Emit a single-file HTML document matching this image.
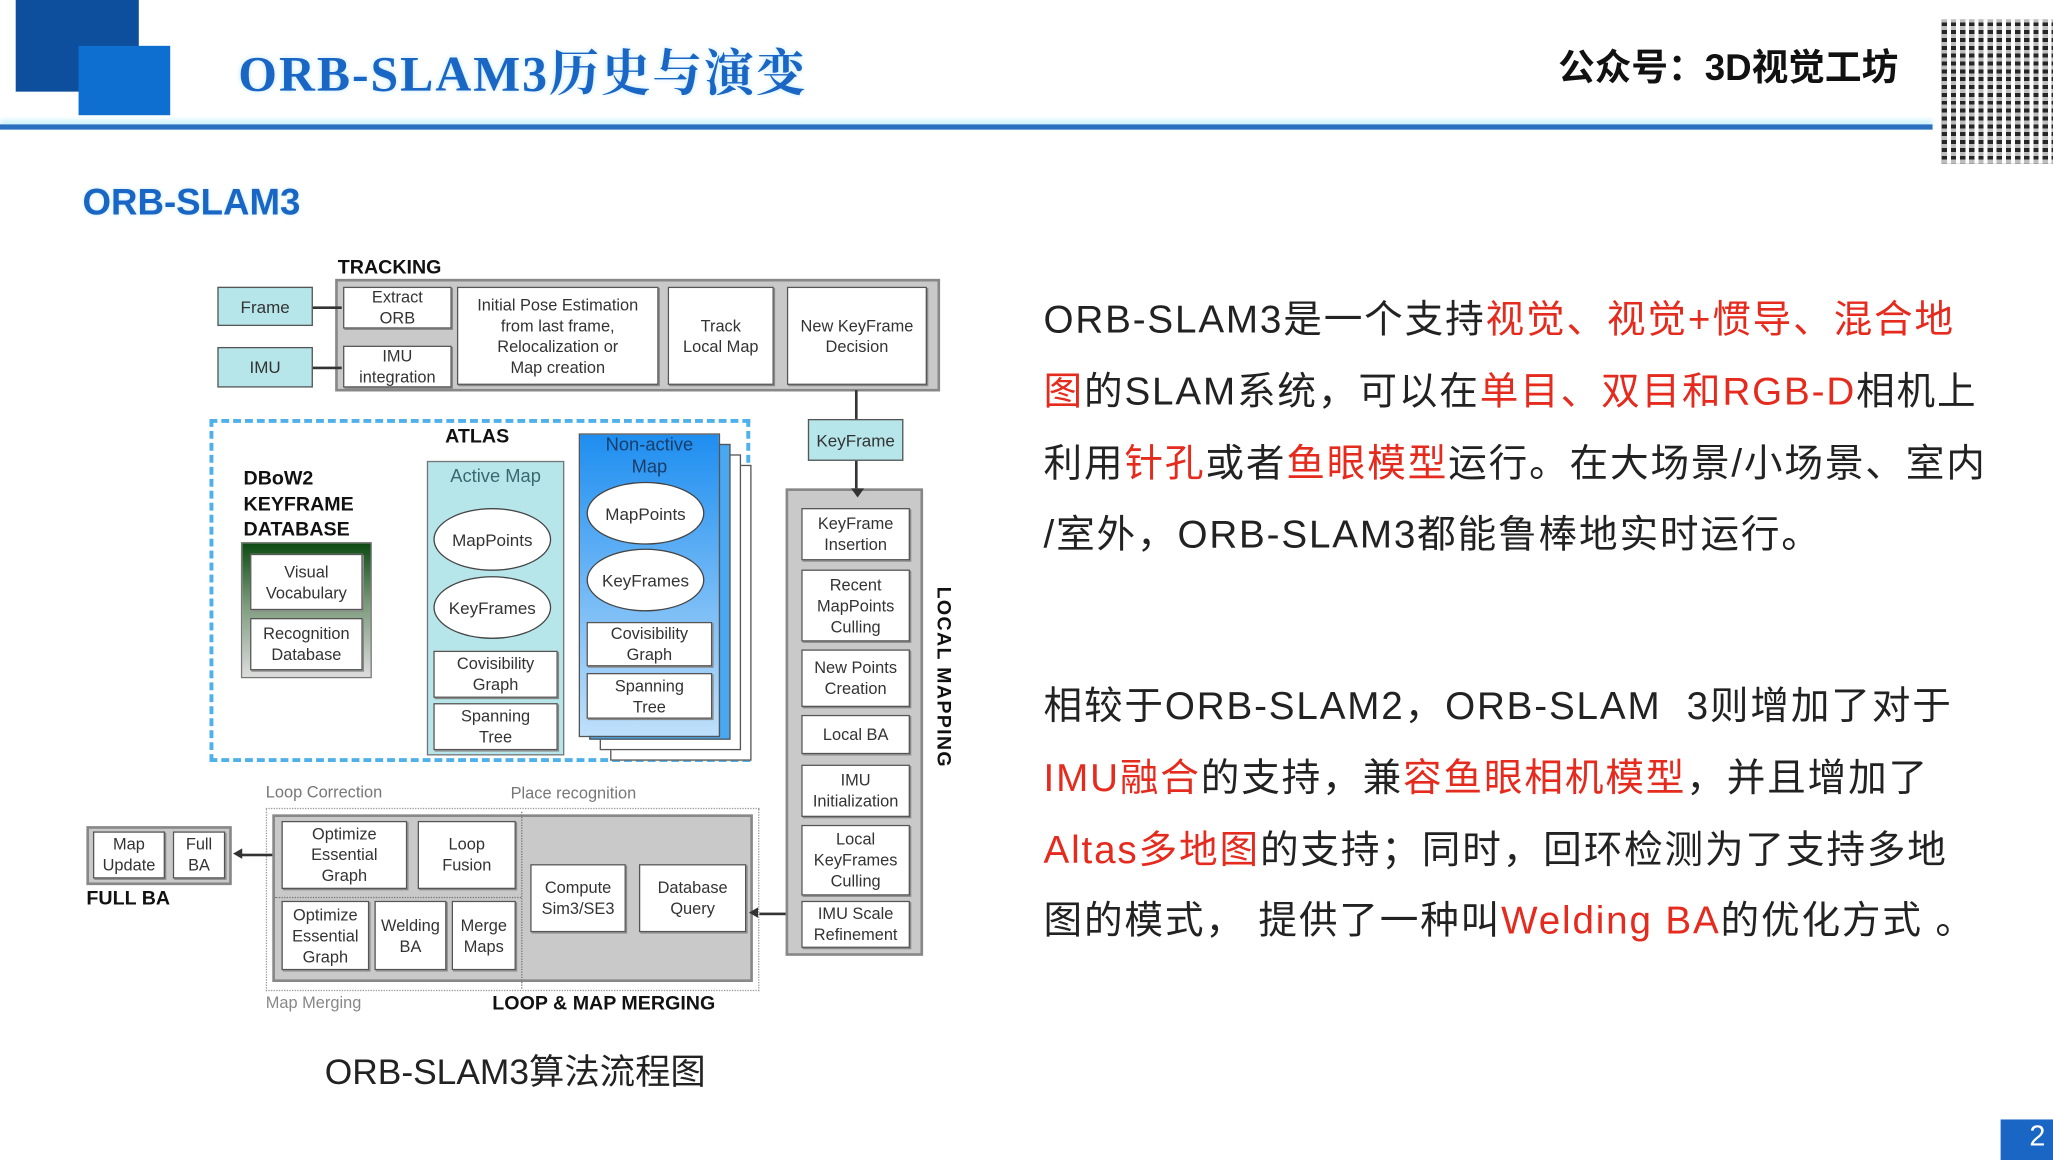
<!DOCTYPE html>
<html><head><meta charset="utf-8"><style>
html,body{margin:0;padding:0;background:#fff;overflow:hidden;width:2053px;height:1160px}
#s{position:absolute;left:0;top:0;width:1568px;height:886px;transform:scale(1.30931);transform-origin:0 0;font-family:"Liberation Sans","Noto Sans CJK SC",sans-serif}
.a{position:absolute;box-sizing:border-box}
.b{position:absolute;box-sizing:border-box;background:#fff;border:1.5px solid #555;display:flex;align-items:center;justify-content:center;text-align:center;font-size:12.5px;line-height:16px;color:#333;box-shadow:1px 1px 0 #888}
.g{position:absolute;box-sizing:border-box;background:#c9c9c9;border:2px solid #888}
.t{position:absolute;background:#b6e6ea;border:1.5px solid #555;display:flex;align-items:center;justify-content:center;font-size:13px;color:#333;box-sizing:border-box}
.e{position:absolute;background:#fff;border:1.5px solid #444;border-radius:50%;display:flex;align-items:center;justify-content:center;font-size:13px;color:#333;box-sizing:border-box}
.l{position:absolute;font-weight:bold;font-size:15px;color:#111}
.r{color:#e52a1e}
.p{position:absolute;left:797px;font-size:29.5px;letter-spacing:1.4px;color:#222;white-space:nowrap;line-height:30px}
</style></head><body><div id="s">
<div class="a" style="left:12px;top:0;width:94px;height:70px;background:#0d4f9c"></div>
<div class="a" style="left:60px;top:35px;width:70px;height:53px;background:#0f6fd0"></div>
<div class="a" style="left:182px;top:25px;font:bold 38px 'Liberation Serif','Noto Serif CJK SC',serif;letter-spacing:1.5px;color:#1a66c4;white-space:nowrap;text-shadow:0 0 4px #bfe8ff">ORB-SLAM3历史与演变</div>
<div class="a" style="left:0;top:95px;width:1476px;height:4px;background:#2a6fc0;box-shadow:0 -3px 4px #bff0ff"></div>
<div class="a" style="left:1190px;top:30px;font:bold 28px 'Liberation Sans','Noto Sans CJK SC',sans-serif;color:#111;white-space:nowrap">公众号：3D视觉工坊</div>
<div class="a" style="left:1483px;top:15px;width:85px;height:110px;background:repeating-linear-gradient(90deg,#000 0 4px,#fff 4px 7px),#000;opacity:.85"></div>
<div class="a" style="left:1483px;top:15px;width:85px;height:110px;background:repeating-linear-gradient(0deg,rgba(255,255,255,.7) 0 3px,transparent 3px 6px)"></div>
<div class="a" style="left:63px;top:139px;font:bold 28px 'Liberation Sans',sans-serif;color:#1a66c4;text-shadow:0 0 3px #bfe8ff">ORB-SLAM3</div>

<!-- tracking -->
<div class="l" style="left:258px;top:196px">TRACKING</div>
<div class="g" style="left:256px;top:213px;width:462px;height:86px"></div>
<div class="t" style="left:166px;top:219px;width:73px;height:30px">Frame</div>
<div class="t" style="left:166px;top:265px;width:73px;height:31px">IMU</div>
<div class="a" style="left:239px;top:234px;width:22px;height:1.5px;background:#333"></div>
<div class="a" style="left:239px;top:280px;width:22px;height:1.5px;background:#333"></div>
<div class="b" style="left:262px;top:219px;width:83px;height:32px">Extract<br>ORB</div>
<div class="b" style="left:262px;top:264px;width:83px;height:32px">IMU<br>integration</div>
<div class="b" style="left:349px;top:219px;width:154px;height:75px">Initial Pose Estimation<br>from last frame,<br>Relocalization or<br>Map creation</div>
<div class="b" style="left:510px;top:219px;width:81px;height:75px">Track<br>Local Map</div>
<div class="b" style="left:601px;top:219px;width:107px;height:75px">New KeyFrame<br>Decision</div>
<div class="a" style="left:653px;top:298px;width:1.5px;height:22px;background:#333"></div>
<div class="t" style="left:617px;top:320px;width:73px;height:32px">KeyFrame</div>
<div class="a" style="left:653px;top:352px;width:1.5px;height:28px;background:#333"></div>

<!-- atlas -->
<div class="a" style="left:160px;top:320px;width:413px;height:262px;border:3px dashed #4fb0ea"></div>
<div class="l" style="left:340px;top:325px">ATLAS</div>
<div class="l" style="left:186px;top:356px;line-height:19.5px">DBoW2<br>KEYFRAME<br>DATABASE</div>
<div class="a" style="left:184px;top:414px;width:100px;height:104px;border:1.5px solid #777;background:linear-gradient(#0d4a12,#7a9a7a 45%,#ddd)"></div>
<div class="b" style="left:191px;top:423px;width:86px;height:43px">Visual<br>Vocabulary</div>
<div class="b" style="left:191px;top:472px;width:86px;height:40px">Recognition<br>Database</div>
<div class="a" style="left:326px;top:352px;width:105px;height:225px;background:#b6e6ea;border:1.5px solid #777"></div>
<div class="a" style="left:326px;top:355px;width:105px;text-align:center;font-size:14px;color:#3a6a70">Active Map</div>
<div class="e" style="left:331px;top:388px;width:90px;height:48px">MapPoints</div>
<div class="e" style="left:331px;top:440px;width:90px;height:48px">KeyFrames</div>
<div class="b" style="left:331px;top:497px;width:95px;height:36px">Covisibility<br>Graph</div>
<div class="b" style="left:331px;top:537px;width:95px;height:36px">Spanning<br>Tree</div>
<div class="a" style="left:466px;top:355px;width:108px;height:226px;background:#fff;border:1.5px solid #555"></div>
<div class="a" style="left:458px;top:347px;width:108px;height:226px;background:#fff;border:1.5px solid #555"></div>
<div class="a" style="left:450px;top:339px;width:108px;height:226px;background:#4aa8f0;border:1.5px solid #555"></div>
<div class="a" style="left:442px;top:331px;width:108px;height:232px;background:linear-gradient(#1e8ef0,#bfe0fb);border:1.5px solid #555"></div>
<div class="a" style="left:442px;top:331px;width:108px;text-align:center;font-size:14px;line-height:17px;color:#1a3d6a">Non-active<br>Map</div>
<div class="e" style="left:448px;top:368px;width:90px;height:48px">MapPoints</div>
<div class="e" style="left:448px;top:419px;width:90px;height:48px">KeyFrames</div>
<div class="b" style="left:448px;top:475px;width:96px;height:34px">Covisibility<br>Graph</div>
<div class="b" style="left:448px;top:514px;width:96px;height:35px">Spanning<br>Tree</div>

<!-- local mapping -->
<div class="g" style="left:600px;top:373px;width:105px;height:357px"></div>
<div class="a" style="left:650px;top:373px;border:5px solid transparent;border-top:7px solid #333"></div>
<div class="b" style="left:612px;top:388px;width:83px;height:40px">KeyFrame<br>Insertion</div>
<div class="b" style="left:612px;top:435px;width:83px;height:55px">Recent<br>MapPoints<br>Culling</div>
<div class="b" style="left:612px;top:496px;width:83px;height:44px">New Points<br>Creation</div>
<div class="b" style="left:612px;top:546px;width:83px;height:30px">Local BA</div>
<div class="b" style="left:612px;top:584px;width:83px;height:40px">IMU<br>Initialization</div>
<div class="b" style="left:612px;top:630px;width:83px;height:54px">Local<br>KeyFrames<br>Culling</div>
<div class="b" style="left:612px;top:688px;width:83px;height:36px">IMU Scale<br>Refinement</div>
<div class="l" style="left:712px;top:448px;writing-mode:vertical-rl;letter-spacing:1px">LOCAL MAPPING</div>

<!-- loop -->
<div class="a" style="left:203px;top:598px;font-size:12.5px;color:#777">Loop Correction</div>
<div class="a" style="left:390px;top:599px;font-size:12.5px;color:#777">Place recognition</div>
<div class="a" style="left:203px;top:617px;width:377px;height:140px;border:1.5px dotted #999"></div>
<div class="g" style="left:208px;top:622px;width:367px;height:128px"></div>
<div class="a" style="left:398px;top:620px;width:0;height:135px;border-left:1.5px dotted #777"></div>
<div class="a" style="left:210px;top:685px;width:188px;height:0;border-top:1.5px dotted #777"></div>
<div class="b" style="left:215px;top:627px;width:96px;height:52px">Optimize<br>Essential<br>Graph</div>
<div class="b" style="left:319px;top:627px;width:75px;height:52px">Loop<br>Fusion</div>
<div class="b" style="left:215px;top:688px;width:67px;height:53px">Optimize<br>Essential<br>Graph</div>
<div class="b" style="left:286px;top:688px;width:55px;height:53px">Welding<br>BA</div>
<div class="b" style="left:345px;top:688px;width:49px;height:53px">Merge<br>Maps</div>
<div class="b" style="left:405px;top:660px;width:73px;height:52px">Compute<br>Sim3/SE3</div>
<div class="b" style="left:488px;top:660px;width:82px;height:52px">Database<br>Query</div>
<div class="a" style="left:580px;top:697px;width:20px;height:1.5px;background:#333"></div>
<div class="a" style="left:572px;top:693px;border:4px solid transparent;border-right:7px solid #333;border-left:0"></div>
<div class="a" style="left:184px;top:652px;width:24px;height:1.5px;background:#333"></div>
<div class="a" style="left:178px;top:648px;border:4px solid transparent;border-right:7px solid #333;border-left:0"></div>
<div class="g" style="left:66px;top:631px;width:111px;height:45px"></div>
<div class="b" style="left:71px;top:635px;width:55px;height:36px">Map<br>Update</div>
<div class="b" style="left:132px;top:635px;width:40px;height:36px">Full<br>BA</div>
<div class="l" style="left:66px;top:678px">FULL BA</div>
<div class="a" style="left:203px;top:759px;font-size:12.5px;color:#888">Map Merging</div>
<div class="l" style="left:376px;top:758px">LOOP &amp; MAP MERGING</div>
<div class="a" style="left:248px;top:797px;font-size:27px;color:#222;white-space:nowrap">ORB-SLAM3算法流程图</div>

<!-- right text -->
<div class="p" style="top:230px">ORB-SLAM3是一个支持<span class="r">视觉、视觉+惯导、混合地</span></div>
<div class="p" style="top:285px"><span class="r">图</span>的SLAM系统，可以在<span class="r">单目、双目和RGB-D</span>相机上</div>
<div class="p" style="top:340px">利用<span class="r">针孔</span>或者<span class="r">鱼眼模型</span>运行。在大场景/小场景、室内</div>
<div class="p" style="top:394px">/室外，ORB-SLAM3都能鲁棒地实时运行。</div>
<div class="p" style="top:525px">相较于ORB-SLAM2，ORB-SLAM&nbsp;&nbsp;3则增加了对于</div>
<div class="p" style="top:580px"><span class="r">IMU融合</span>的支持，兼<span class="r">容鱼眼相机模型</span>，并且增加了</div>
<div class="p" style="top:635px"><span class="r">Altas多地图</span>的支持；同时，回环检测为了支持多地</div>
<div class="p" style="top:689px">图的模式， 提供了一种叫<span class="r">Welding BA</span>的优化方式 。</div>
<div class="a" style="left:1528px;top:855px;width:40px;height:31px;background:#1a66c4;color:#fff;font-size:22px;padding-left:22px">2</div>
</div></body></html>
